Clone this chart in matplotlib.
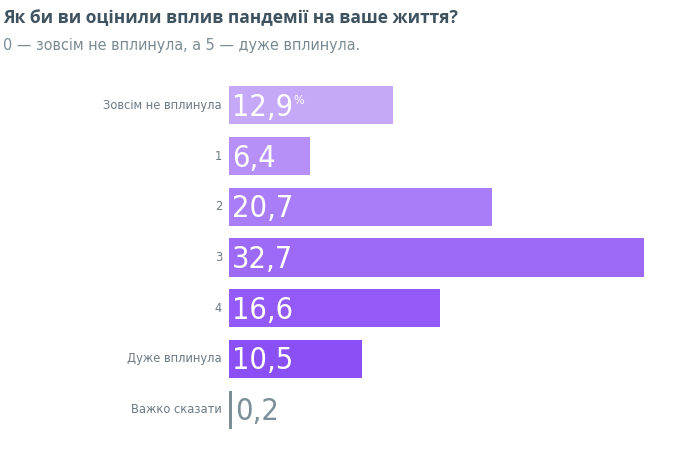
import matplotlib
matplotlib.use("Agg")
import matplotlib.pyplot as plt

categories = ["Зовсім не вплинула", "1", "2", "3", "4", "Дуже вплинула", "Важко сказати"]
values = [12.9, 6.4, 20.7, 32.7, 16.6, 10.5, 0.2]
value_labels = ["12,9", "6,4", "20,7", "32,7", "16,6", "10,5", "0,2"]
colors = ["#c6a8f8", "#b78ff8", "#aa7df8", "#9d6af7", "#945af7", "#8a4ff5", "#7b8f99"]

title = "Як би ви оцінили вплив пандемії на ваше життя?"
subtitle = "0 — зовсім не вплинула, а 5 — дуже вплинула."

NARROW = dict(family="DejaVu Sans", fontstretch="condensed")

fig = plt.figure(figsize=(6.81, 4.49), dpi=100)
ax = fig.add_axes([229 / 681, 1 - 435 / 449, (644 - 229) / 681, 355 / 449])

pos = list(range(len(values)))
ax.barh(pos, values, height=0.75, color=colors)
ax.set_xlim(0, max(values))
ax.set_ylim(len(values) - 0.5, -0.5)
ax.axis("off")

for i, (v, lab, cat) in enumerate(zip(values, value_labels, categories)):
    inside = v > 3
    x = 0.25 if inside else v + 0.3
    col = "white" if inside else "#7b8f99"
    t = ax.text(x, i + 0.04, lab, ha="left", va="center", fontsize=22,
                color=col, fontweight="light", **NARROW)
    ax.text(-0.55, i, cat, ha="right", va="center", fontsize=9.2,
            color="#6c7a84", **NARROW)
    if i == 0:
        # percent sign as a small superscript after the first value
        ax.annotate("%", xy=(1, 1), xycoords=t, xytext=(0, -1), textcoords="offset points",
                    ha="left", va="top", fontsize=9, color="white", **NARROW)

fig.text(3 / 681, 1 - 18 / 449, title, ha="left", va="center", fontsize=12.5,
         fontweight="bold", color="#3e5260", family="Open Sans")
fig.text(3 / 681, 1 - 45 / 449, subtitle, ha="left", va="center", fontsize=11.5,
         color="#7a8a93", **NARROW)

fig.savefig("out.png", dpi=100)
